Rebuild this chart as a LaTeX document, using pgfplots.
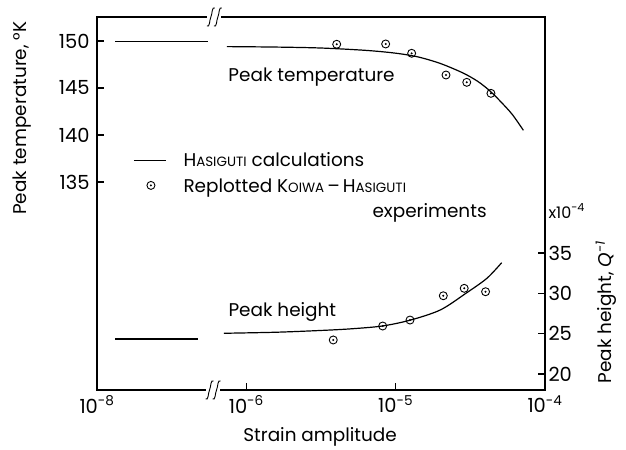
\documentclass[border=0pt]{standalone}
\usepackage{fontspec}
\setmainfont{Poppins}
\usepackage{pgfplots}
\usepackage{pgfplotstable}
\pgfplotsset{compat=1.18}

\pgfdeclareplotmark{odot}{%
  \pgfpathcircle{\pgfpointorigin}{\pgfplotmarksize}\pgfusepathqstroke
  \pgfpathcircle{\pgfpointorigin}{0.28\pgfplotmarksize}\pgfusepathqfill}

\newcommand\sck[1]{{\fontsize{13.5}{16}\selectfont #1}}

\pgfplotsset{
  lineleg/.style={legend image code/.code={\draw[##1] (0bp,0bp) -- (32bp,0bp);}},
  markleg/.style={legend image code/.code={\draw[##1] plot coordinates {(17bp,0bp)};}},
}

% x = log10(strain amplitude); left segment (before the break) is shifted by +1 decade
\pgfplotstableread{
logeps T
-7.879 149.92
-7.255 149.92
}\tempflat
\pgfplotstableread{
logeps T
-6.13 149.40
-5.80 149.35
-5.50 149.25
-5.20 149.00
-5.00 148.70
-4.85 148.30
-4.70 147.60
-4.55 146.60
-4.45 145.70
-4.37 144.70
-4.30 143.60
-4.22 142.20
-4.145 140.50
}\tempcurve
\pgfplotstableread{
logeps T
-5.395 149.65
-5.067 149.68
-4.893 148.69
-4.663 146.38
-4.524 145.60
-4.362 144.43
}\tempexp
\pgfplotstableread{
logeps Q
-7.879 24.34
-7.321 24.34
}\hflat
\pgfplotstableread{
logeps Q
-6.15 25.05
-5.80 25.18
-5.50 25.40
-5.30 25.60
-5.09 25.95
-4.90 26.69
-4.70 27.95
-4.53 30.00
-4.39 31.85
-4.29 33.80
}\hcurve
\pgfplotstableread{
logeps Q
-5.418 24.22
-5.087 25.95
-4.904 26.69
-4.681 29.70
-4.541 30.62
-4.398 30.20
}\hexp

\tikzset{brk/.pic={
  \fill[white] (-7bp,-2bp) rectangle (7bp,2bp);
  \foreach \dx in {-3.5,3.5}{
    \draw[line width=0.9bp, xshift=\dx bp] (-4bp,-9bp) .. controls (-1bp,-11bp) and (-1.5bp,-3bp) .. (0bp,0bp)
      .. controls (1.5bp,3bp) and (1bp,11bp) .. (4bp,9bp);}
}}

\begin{document}
\begin{tikzpicture}[font=\fontsize{18.5}{22}\selectfont]
\path[use as bounding box] (0,0) rectangle (626bp,450bp);
\pgfplotsset{
  common/.style={
    at={(97bp,60bp)}, anchor=south west,
    scale only axis, width=448bp, height=373bp,
    xmin=-7, xmax=-4, clip=false,
    tick align=inside, major tick length=7bp,
    axis line style={line width=1.3bp},
    every tick/.style={line width=1.1bp, black},
    tick label style={font=\fontsize{19.5}{22}\selectfont},
    /pgf/number format/assume math mode=true,
  }
}
\begin{axis}[common,
  ymin=112.87, ymax=152.55,
  xtick={-7,-6,-5,-4},
  xticklabels={10\textsuperscript{-8},10\textsuperscript{-6},10\textsuperscript{-5},10\textsuperscript{-4}},
  xticklabel style={yshift=-2bp},
  yticklabel style={xshift=-4bp},
  ytick={135,140,145,150},
  ytick pos=left, xtick pos=bottom,
  xlabel={Strain amplitude},
  xlabel style={at={(rel axis cs:0.498,-0.126)}, anchor=center},
  ylabel={Peak temperature, °K},
  ylabel style={at={(rel axis cs:-0.167,0.729)}, anchor=center},
  legend cell align=left,
  legend style={draw=none, fill=none, at={(rel axis cs:0.074,0.648)}, anchor=north west, row sep=5bp,
    /tikz/every odd column/.append style={column sep=15bp}},
]
\addplot[line width=1.2bp, forget plot] table[x expr=\thisrow{logeps}+1, y=T] {\tempflat};
\addplot[line width=1.2bp, smooth, lineleg] table[x=logeps, y=T] {\tempcurve};
\addlegendentry{H\sck{ASIGUTI} calculations}
\addplot[only marks, mark=odot, mark size=4bp, mark options={line width=0.9bp}, markleg] table[x=logeps, y=T] {\tempexp};
\addlegendentry{\begin{tabular}[t]{@{}l@{}}Replotted K\sck{OIWA}\,--\,H\sck{ASIGUTI}\\[3bp]\hspace*{189bp}experiments\end{tabular}}
\node[anchor=west] at (axis cs:-6.143,146.17) {Peak temperature};
\coordinate (bb) at (rel axis cs:0.259,0);
\coordinate (bt) at (rel axis cs:0.262,1);
\end{axis}
\begin{axis}[common,
  ymin=18.02, ymax=64.25,
  axis x line=none, axis y line*=right,
  ytick={20,25,30,35},
  ylabel={Peak height, \itshape Q\textsuperscript{-1}},
  ylabel style={at={(rel axis cs:1.136,0.209)}, anchor=center},
]
\addplot[line width=1.2bp] table[x expr=\thisrow{logeps}+1, y=Q] {\hflat};
\addplot[line width=1.2bp, smooth] table[x=logeps, y=Q] {\hcurve};
\addplot[only marks, mark=odot, mark size=4bp, mark options={line width=0.9bp}] table[x=logeps, y=Q] {\hexp};
\node[anchor=west] at (axis cs:-6.143,27.69) {Peak height};
\node[anchor=west, font=\fontsize{16}{19}\selectfont] at (axis cs:-4,40.2) {x10\textsuperscript{-4}};
\end{axis}
\pic at (bb) {brk};
\pic at (bt) {brk};
\end{tikzpicture}
\end{document}
